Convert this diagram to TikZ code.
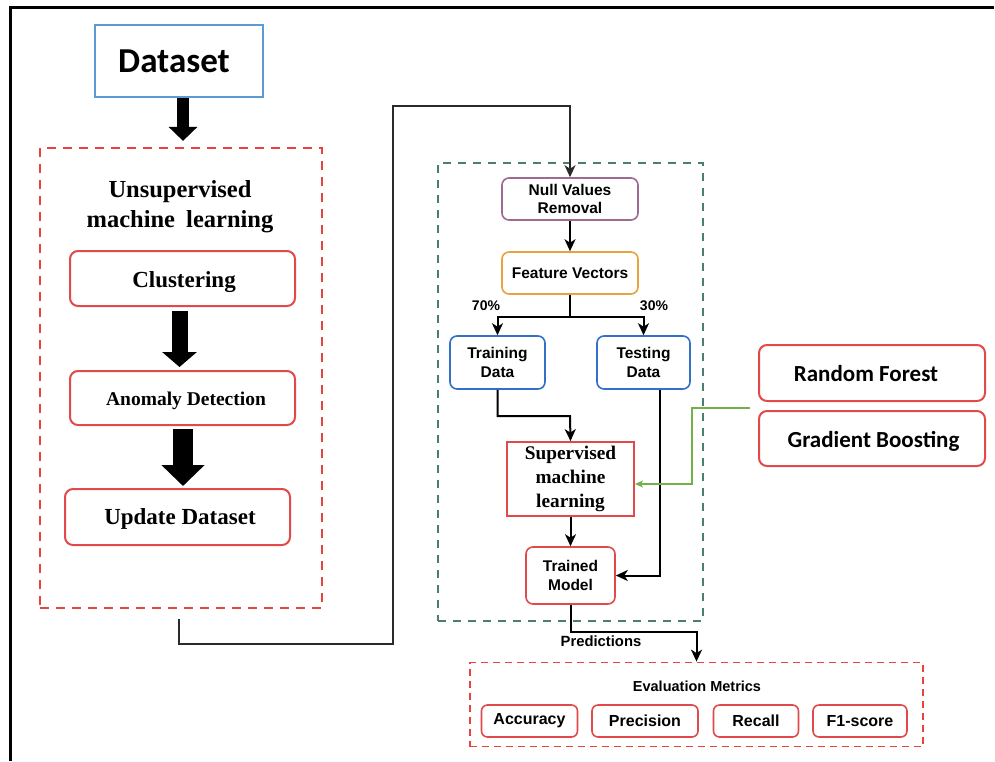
\documentclass[tikz,border=0pt]{standalone}
\usepackage{fontspec}
\setmainfont{Liberation Sans}
\newfontfamily\calfont{Carlito}
\newfontfamily\timesfont{Liberation Serif}
\usetikzlibrary{arrows.meta,calc}
\definecolor{boxred}{HTML}{E04A4A}
\definecolor{dashred}{HTML}{E8443E}
\definecolor{dsblue}{HTML}{5B9BD5}
\definecolor{trblue}{HTML}{3370C8}
\definecolor{nvpurple}{HTML}{9E6A90}
\definecolor{fvorange}{HTML}{E6A33E}
\definecolor{dashgreen}{HTML}{4A7F70}
\definecolor{arrgreen}{HTML}{72B24A}
\definecolor{linegray}{HTML}{2A2A2A}
\tikzset{
  redbox/.style={draw=boxred, line width=2pt, rounded corners=8pt, inner sep=0pt},
  midbox/.style={draw=#1, line width=1.6pt, rounded corners=7pt, inner sep=0pt, align=center, font=\fontsize{15.5}{18.5}\selectfont\bfseries},
  metbox/.style={draw=boxred, line width=1.6pt, rounded corners=6pt, inner sep=0pt, minimum height=32pt, font=\fontsize{16}{18}\selectfont\bfseries},
  reddash/.style={draw=dashred, line width=2.2pt, dash pattern=on 9pt off 7pt, inner sep=0pt},
  conn/.style={draw=black, line width=2pt, -{Stealth[length=12pt,width=11pt,inset=3.5pt]}},
  lbl/.style={inner sep=0pt},
}
\begin{document}
\begin{tikzpicture}[x=1pt,y=-1pt]
\useasboundingbox (0,0) rectangle (995,761);
% frame
\draw[line width=3pt, line join=miter] (10,761) -- (10,7) -- (994,7);

% left column
\node[draw=dsblue, line width=1.8pt, minimum width=168pt, minimum height=72pt, inner sep=0pt] (ds) at (179,61) {};
\node[lbl, font=\calfont\fontsize{35}{40}\selectfont\bfseries] (dst) at (174,61) {Dataset};
\node[reddash, minimum width=282pt, minimum height=460pt] (unsup) at (181,378) {};
\node[align=center, font=\timesfont\fontsize{24.5}{30}\selectfont\bfseries] (ut) at (180,207) {Unsupervised\\machine\hspace{5pt} learning};
\node[redbox, minimum width=225pt, minimum height=55pt] (clu) at (182.5,278.5) {};
\node[lbl, font=\timesfont\fontsize{23}{26}\selectfont\bfseries] (clut) at (184,282) {Clustering};
\node[redbox, minimum width=225pt, minimum height=54pt] (ano) at (182.5,398) {};
\node[lbl, font=\timesfont\fontsize{19.5}{22}\selectfont\bfseries] (anot) at (186,401) {Anomaly Detection};
\node[redbox, minimum width=225pt, minimum height=56pt] (upd) at (177.5,517) {};
\node[lbl, font=\timesfont\fontsize{23}{26}\selectfont\bfseries] (updt) at (180,519) {Update Dataset};

\draw[line width=12pt, -{Triangle[width=28pt,length=14pt]}, shorten >=6pt] ([xshift=4pt]ds.south) -- ([xshift=4pt]ds.south |- unsup.north);
\draw[line width=16pt, -{Triangle[width=34pt,length=15pt]}, shorten <=4pt, shorten >=3pt] ([xshift=-3pt]clu.south) -- ([xshift=-3pt]clu.south |- ano.north);
\draw[line width=20pt, -{Triangle[width=42pt,length=21pt]}, shorten <=3pt, shorten >=2pt] ([xshift=0.5pt]ano.south) -- ([xshift=0.5pt]ano.south |- upd.north);

% middle block
\node[draw=dashgreen, line width=1.8pt, dash pattern=on 8pt off 7pt, minimum width=265pt, minimum height=458pt, inner sep=0pt] (ml) at (570.5,392) {};
\node[midbox=nvpurple, minimum width=136pt, minimum height=42pt] (nvr) at (570,199) {Null Values\\Removal};
\node[midbox=fvorange, minimum width=136pt, minimum height=42pt] (fv) at (570,273) {Feature Vectors};
\node[midbox=trblue, minimum width=95pt, minimum height=53pt] (train) at (497.5,362.5) {Training\\Data};
\node[midbox=trblue, minimum width=93pt, minimum height=53pt] (test) at (643.5,362.5) {Testing\\Data};
\node[draw=boxred, line width=1.8pt, minimum width=127pt, minimum height=74pt, inner sep=0pt, align=center, font=\timesfont\fontsize{19.3}{24}\selectfont\bfseries] (sup) at (570.5,479) {Supervised\\machine\\learning};
\node[midbox=boxred, minimum width=89pt, minimum height=57pt] (trained) at (570.5,575.5) {Trained\\Model};

\draw[conn] (nvr.south) -- (fv.north);
\draw[line width=2pt] (fv.south) -- ++(0,22) coordinate (split);
\draw[conn] (split) -| (train.north);
\draw[conn] (split) -| (test.north);
\node[font=\fontsize{14}{16}\selectfont\bfseries] (p70) at (486,306) {70\%};
\node[font=\fontsize{14}{16}\selectfont\bfseries] (p30) at (654,306) {30\%};
\coordinate (tj) at (570,416);
\draw[conn] (train.south) |- (tj) -- (sup.north);
\draw[conn] (sup.south) -- (trained.north);
\draw[conn] ([xshift=16.5pt]test.south) |- (trained.east);

% long connector from left block
\coordinate (c0) at (179,619);
\coordinate (c1) at (179,644);
\coordinate (c2) at (393,644);
\coordinate (c3) at (393,106);
\draw[draw=linegray, line width=1.6pt, -{Stealth[length=12pt,width=11pt,inset=3.5pt]}] (c0) -- (c1) -- (c2) -- (c3) -| (nvr.north);

% right boxes
\node[redbox, minimum width=226pt, minimum height=56pt] (rf) at (872,373) {};
\node[lbl, font=\calfont\fontsize{23}{26}\selectfont\bfseries] (rft) at (866,374) {Random Forest};
\node[redbox, minimum width=226pt, minimum height=55pt] (gb) at (872,438.5) {};
\node[lbl, font=\calfont\fontsize{23}{26}\selectfont\bfseries] (gbt) at (873.5,441) {Gradient Boosting};
\coordinate (g0) at (750,408);
\draw[draw=arrgreen, line width=1.5pt, -{Stealth[length=8pt,width=7pt,inset=2pt]}] (g0) -- (692,408) |- ([yshift=-5pt]sup.east);

% evaluation
\node[reddash, line width=1.8pt, dash pattern=on 7pt off 5pt, minimum width=453pt, minimum height=84pt] (eval) at (696.5,704.5) {};
\node[font=\fontsize{14.5}{17}\selectfont\bfseries] (evt) at (697,686) {Evaluation Metrics};
\node[metbox, minimum width=96pt] (acc) at (529.5,721) {Accuracy};
\node[metbox, minimum width=106pt] (prec) at (645,721) {Precision};
\node[metbox, minimum width=85pt] (rec) at (756,721) {Recall};
\node[metbox, minimum width=94pt] (f1) at (860,721) {F1-score};
\draw[conn] (trained.south) -- ++(0,27) -| (eval.north);
\node[font=\fontsize{14.8}{17}\selectfont\bfseries] (pred) at (601,641) {Predictions};
\end{tikzpicture}
\end{document}
